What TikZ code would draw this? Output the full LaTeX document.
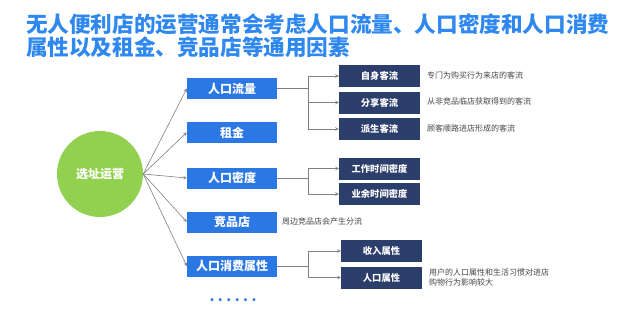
\documentclass[tikz,border=0pt]{standalone}
\usepackage{fontspec}
\setmainfont{Noto Sans CJK SC}
\definecolor{titleblue}{HTML}{2F88F0}
\definecolor{boxblue}{HTML}{2B78E4}
\definecolor{boxnavy}{HTML}{2C3E6B}
\definecolor{leafgreen}{HTML}{92D050}
\definecolor{notegray}{HTML}{444444}
\begin{document}
\begin{tikzpicture}[x=1pt, y=-1pt, >=stealth,
    attr/.style={fill=boxblue, text=white, font=\bfseries\fontsize{12}{12}\selectfont,
        minimum width=90pt, minimum height=21pt, inner sep=0pt},
    sub/.style={fill=boxnavy, text=white, font=\bfseries\fontsize{9.3}{9.3}\selectfont,
        minimum width=81pt, minimum height=22pt, inner sep=0pt},
    note/.style={text=notegray, font=\fontsize{8}{10}\selectfont, anchor=west,
        inner sep=0pt, align=left},
    link/.style={->, gray, semithick}]
    \useasboundingbox (0,0) rectangle (640,311);

    % title
    \node[anchor=north west, inner sep=0pt, align=left, text=titleblue,
        font=\bfseries\fontsize{21.6}{23}\selectfont] (title) at (26,13)
        {无人便利店的运营通常会考虑人口流量、人口密度和人口消费\\属性以及租金、竞品店等通用因素};

    % centre
    \node[circle, fill=leafgreen, minimum size=86pt, inner sep=0pt, text=white,
        font=\bfseries\fontsize{12}{12}\selectfont] (site) at (100,174) {选址运营};

    % first level
    \node[attr] (flow)  at (232,88.5) {人口流量};
    \node[attr] (rent)  at (232,132.5) {租金};
    \node[attr] (dens)  at (232,178) {人口密度};
    \node[attr] (rival) at (232,222) {竞品店};
    \node[attr] (spend) at (232,266) {人口消费属性};
    \node[text=boxblue, inner sep=0pt, font=\bfseries\fontsize{14}{14}\selectfont\addfontfeatures{LetterSpace=25}]
        (more) at (233,300) {......};

    \foreach \n in {flow, rent, dens, rival, spend}
        \draw[link] (site.east) -- (\n.west);

    % second level
    \node[sub] (own)   at (379.5,76) {自身客流};
    \node[sub] (share) at (379.5,102.5) {分享客流};
    \node[sub] (pass)  at (379.5,129) {派生客流};
    \node[sub] (work)  at (379.5,168.5) {工作时间密度};
    \node[sub] (free)  at (379.5,194) {业余时间密度};
    \node[sub] (income) at (381.5,251) {收入属性};
    \node[sub] (people) at (381.5,277.5) {人口属性};

    \coordinate (flowfork)  at ([xshift=31pt]flow.east);
    \coordinate (densfork)  at ([xshift=31pt]dens.east);
    \coordinate (spendfork) at ([xshift=31pt]spend.east);

    \foreach \n in {own, share, pass}
        \draw[link] (flow.east) -- (flowfork) |- (\n.west);
    \foreach \n in {work, free}
        \draw[link] (dens.east) -- (densfork) |- (\n.west);
    \foreach \n in {income, people}
        \draw[link] (spend.east) -- (spendfork) |- (\n.west);

    % notes
    \node[note] (ownnote)   at (427,75) {专门为购买行为来店的客流};
    \node[note] (sharenote) at (427,101) {从非竞品临店获取得到的客流};
    \node[note] (passnote)  at (427,128) {顾客顺路进店形成的客流};
    \node[note] (rivalnote) at (282,221) {周边竞品店会产生分流};
    \node[note] (peoplenote) at (429,277) {用户的人口属性和生活习惯对进店\\购物行为影响较大};
\end{tikzpicture}
\end{document}
